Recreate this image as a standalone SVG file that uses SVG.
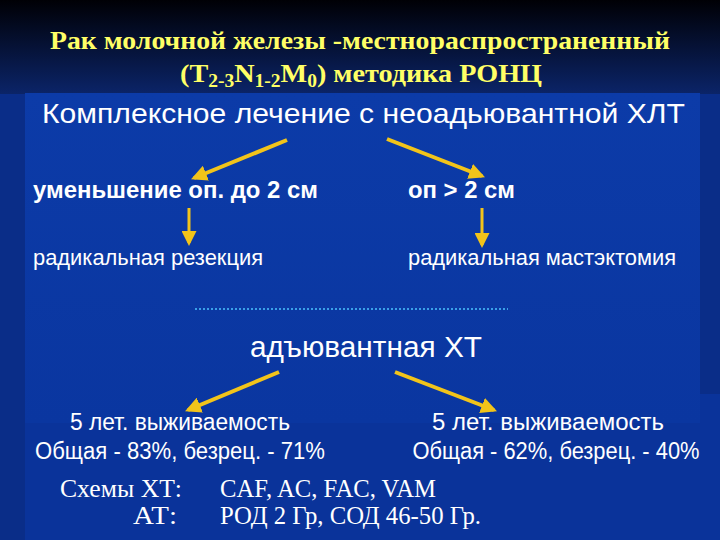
<svg xmlns="http://www.w3.org/2000/svg" width="720" height="540" viewBox="0 0 720 540">
<defs>
<linearGradient id="top" x1="0" y1="0" x2="0" y2="1">
<stop offset="0" stop-color="#000005"/>
<stop offset="1" stop-color="#0b2468"/>
</linearGradient>
<linearGradient id="panel" x1="0" y1="0" x2="0" y2="1">
<stop offset="0" stop-color="#0c3ba8"/>
<stop offset="1" stop-color="#0a36a0"/>
</linearGradient>
<marker id="ah" viewBox="0 0 10 10" refX="8" refY="5" markerWidth="4" markerHeight="4" orient="auto" markerUnits="strokeWidth">
<path d="M0,0 L10,5 L0,10 z" fill="#f2c41a"/>
</marker>
<marker id="ahs" viewBox="0 0 10 10" refX="8" refY="5" markerWidth="5" markerHeight="5" orient="auto" markerUnits="strokeWidth">
<path d="M0,0 L10,5 L0,10 z" fill="#f2c41a"/>
</marker>
<style>
.ttl{font-family:"Liberation Serif","Times New Roman",serif;font-weight:bold;fill:#ffff66;font-size:26px}
.sans{font-family:"Liberation Sans",Arial,sans-serif;fill:#ffffff}
.b{font-weight:bold}
.ser{font-family:"Liberation Serif","Times New Roman",serif;fill:#ffffff;font-size:26px}
.arr{stroke:#f2c41a;stroke-width:4;fill:none;marker-end:url(#ah)}
.arrs{stroke:#f2c41a;stroke-width:3;fill:none;marker-end:url(#ahs)}
</style>
</defs>
<rect x="0" y="0" width="720" height="540" fill="#0a339a"/>
<rect x="0" y="0" width="720" height="94" fill="url(#top)"/>
<rect x="0" y="94" width="25" height="446" fill="#0a2d88"/>
<rect x="700" y="94" width="20" height="300" fill="#0a2d88"/>
<rect x="25" y="93" width="675" height="330" fill="url(#panel)"/>

<g id="title">
<text class="ttl" x="360" y="49" text-anchor="middle" textLength="620" lengthAdjust="spacingAndGlyphs">Рак молочной железы -местнораспространенный</text>
<text class="ttl" x="180" y="82" textLength="362" lengthAdjust="spacingAndGlyphs">(T<tspan font-size="18" dy="5">2-3</tspan><tspan dy="-5">N</tspan><tspan font-size="18" dy="5">1-2</tspan><tspan dy="-5">M</tspan><tspan font-size="18" dy="5">0</tspan><tspan dy="-5">) методика РОНЦ</tspan></text>
</g>

<g id="n-complex">
<text class="sans" x="42" y="123" font-size="28" textLength="643" lengthAdjust="spacingAndGlyphs">Комплексное лечение с неоадьювантной ХЛТ</text>
</g>
<g id="n-less">
<text class="sans b" x="33" y="198" font-size="24" textLength="285" lengthAdjust="spacingAndGlyphs">уменьшение оп. до 2 см</text>
</g>
<g id="n-more">
<text class="sans b" x="408" y="198" font-size="24" textLength="107" lengthAdjust="spacingAndGlyphs">оп &gt; 2 см</text>
</g>
<g id="n-resect">
<text class="sans" x="33" y="265" font-size="22" textLength="230" lengthAdjust="spacingAndGlyphs">радикальная резекция</text>
</g>
<g id="n-mast">
<text class="sans" x="408" y="265" font-size="22" textLength="268" lengthAdjust="spacingAndGlyphs">радикальная мастэктомия</text>
</g>
<g id="n-adj">
<text class="sans" x="250" y="357" font-size="29" textLength="232" lengthAdjust="spacingAndGlyphs">адъювантная ХТ</text>
</g>
<g id="n-left">
<text class="sans" x="180" y="430" font-size="23" text-anchor="middle" textLength="220" lengthAdjust="spacingAndGlyphs">5 лет. выживаемость</text>
<text class="sans" x="180" y="459" font-size="23" text-anchor="middle" textLength="290" lengthAdjust="spacingAndGlyphs">Общая - 83%, безрец. - 71%</text>
</g>
<g id="n-right">
<text class="sans" x="548" y="430" font-size="23" text-anchor="middle" textLength="232" lengthAdjust="spacingAndGlyphs">5 лет. выживаемость</text>
<text class="sans" x="556" y="459" font-size="23" text-anchor="middle" textLength="287" lengthAdjust="spacingAndGlyphs">Общая - 62%, безрец. - 40%</text>
</g>
<g id="n-schemes">
<text class="ser" x="182" y="497" text-anchor="end" textLength="122" lengthAdjust="spacingAndGlyphs">Схемы ХТ:</text>
<text class="ser" x="220" y="497" textLength="216" lengthAdjust="spacingAndGlyphs">CAF, AC, FAC, VAM</text>
<text class="ser" x="177" y="524" text-anchor="end" textLength="44" lengthAdjust="spacingAndGlyphs">АТ:</text>
<text class="ser" x="220" y="524" textLength="261" lengthAdjust="spacingAndGlyphs">РОД 2 Гр, СОД 46-50 Гр.</text>
</g>

<g id="connectors">
<line class="arr" x1="287" y1="140" x2="194" y2="178"/>
<line class="arr" x1="387" y1="139" x2="482" y2="176"/>
<line class="arrs" x1="189" y1="208" x2="189" y2="243"/>
<line class="arrs" x1="482" y1="208" x2="482" y2="245"/>
<line class="arr" x1="279" y1="372" x2="188" y2="410"/>
<line class="arr" x1="395" y1="372" x2="494" y2="410"/>
<line x1="195" y1="309" x2="508" y2="309" stroke="#3aa0e8" stroke-width="2" stroke-dasharray="2,2"/>
</g>
</svg>
